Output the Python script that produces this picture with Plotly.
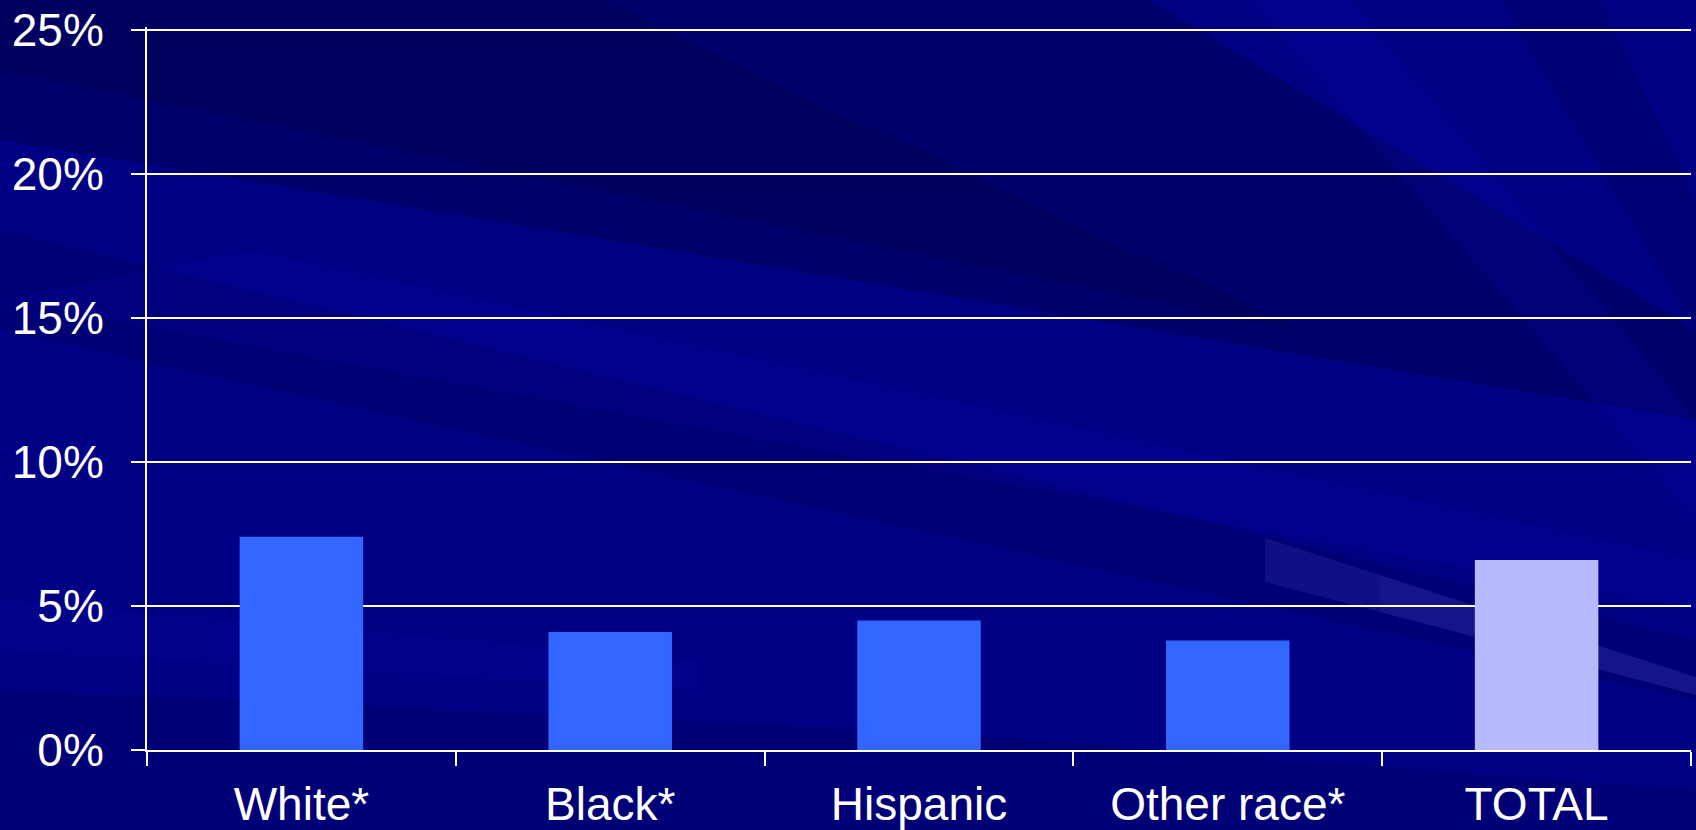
import plotly.graph_objects as go

categories = ["White*", "Black*", "Hispanic", "Other race*", "TOTAL"]
values = [7.4, 4.1, 4.5, 3.8, 6.6]
bar_colors = ["#3366ff", "#3366ff", "#3366ff", "#3366ff", "#b8b8fc"]
y_ticks = [0, 5, 10, 15, 20, 25]
y_tick_labels = ["0%", "5%", "10%", "15%", "20%", "25%"]

W, H = 1696, 830
ML, MR, MT, MB = 147, 5, 27, 80
PW, PH = W - ML - MR, H - MT - MB


def px2paper(pts):
    return [((x - ML) / PW, (H - MB - y) / PH) for x, y in pts]


def poly(pts, color):
    p = px2paper(pts)
    path = "M " + " L ".join(f"{x:.5f},{y:.5f}" for x, y in p) + " Z"
    return dict(type="path", xref="paper", yref="paper", path=path,
                fillcolor=color, line=dict(width=0), layer="below")


streaks = [
    # dark upper-left sweep
    poly([(0, 0), (1150, 0), (1696, 330), (1696, 420), (0, 140)], "rgba(0,0,50,0.28)"),
    poly([(0, 0), (600, 0), (1300, 330), (0, 70)], "rgba(0,0,40,0.20)"),
    # dark mid-left band
    poly([(0, 230), (1696, 640), (1696, 700), (0, 330)], "rgba(0,0,50,0.18)"),
    # lighter mid band
    poly([(250, 250), (1696, 560), (1696, 610), (0, 300)], "rgba(10,10,190,0.14)"),
    # lighter right streaks (steep)
    poly([(1250, 0), (1350, 0), (1696, 420), (1696, 520)], "rgba(10,10,190,0.14)"),
    poly([(1500, 0), (1600, 0), (1696, 200), (1696, 330)], "rgba(0,0,60,0.20)"),
    # dark low band near axis
    poly([(0, 690), (900, 730), (1696, 790), (1696, 830), (0, 830)], "rgba(0,0,50,0.16)"),
    poly([(0, 600), (700, 660), (700, 690), (0, 650)], "rgba(10,10,190,0.10)"),
    # translucent lavender band lower right
    poly([(1265, 538), (1696, 677), (1696, 695), (1265, 582)], "rgba(110,110,230,0.14)"),
    poly([(1380, 575), (1696, 677), (1696, 695), (1380, 612)], "rgba(110,110,230,0.06)"),
]

fig = go.Figure(
    go.Bar(
        x=categories,
        y=values,
        marker=dict(color=bar_colors, line=dict(width=0)),
        width=0.4,
        hoverinfo="skip",
    )
)

font_family = "Arial, Liberation Sans, sans-serif"

fig.update_layout(
    width=W,
    height=H,
    margin=dict(l=ML, r=MR, t=MT, b=MB, pad=0, autoexpand=False),
    paper_bgcolor="#000084",
    plot_bgcolor="rgba(0,0,0,0)",
    showlegend=False,
    shapes=streaks,
    font=dict(family=font_family, color="white", size=46),
)

fig.update_xaxes(
    type="category",
    range=[-0.5, 4.5],
    automargin=False,
    showline=True,
    linecolor="white",
    linewidth=2,
    ticks="outside",
    tickson="boundaries",
    ticklen=14,
    tickwidth=2,
    tickcolor="white",
    showgrid=False,
    tickfont=dict(size=46, color="white", family=font_family),
    ticklabelstandoff=13,
    fixedrange=True,
)

fig.update_yaxes(
    range=[0, 25.1],
    automargin=False,
    tickvals=y_ticks,
    ticktext=y_tick_labels,
    showline=True,
    linecolor="white",
    linewidth=2,
    ticks="outside",
    ticklen=14,
    tickwidth=2,
    tickcolor="white",
    showgrid=True,
    gridcolor="white",
    gridwidth=2,
    zeroline=False,
    tickfont=dict(size=46, color="white", family=font_family),
    ticklabelstandoff=18,
    fixedrange=True,
)

fig.write_html("out.html", config={"displayModeBar": False})
